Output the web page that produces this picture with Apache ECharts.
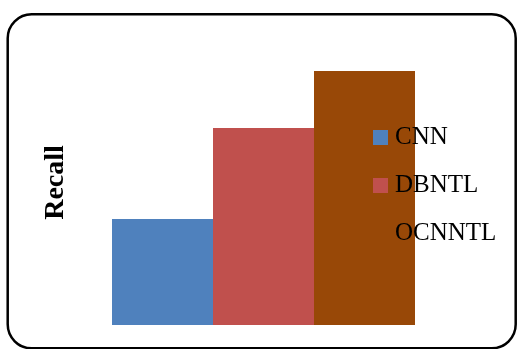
<!DOCTYPE html>
<html>
<head>
<meta charset="utf-8">
<script src="https://cdn.jsdelivr.net/npm/echarts@6/dist/echarts.min.js"></script>
<style>
html,body{margin:0;padding:0;background:#fff;}
#chart{width:517px;height:349px;}
</style>
</head>
<body>
<div id="chart"></div>
<script>
var categories = ['Recall'];
var seriesNames = ['CNN', 'DBNTL', 'OCNNTL'];
var seriesValues = [[41.7], [77.6], [100]];
var seriesColors = ['#4F81BD', '#C0504D', '#984807'];

var chart = echarts.init(document.getElementById('chart'));
var series = seriesNames.map(function (n, i) {
  return {
    name: n,
    type: 'bar',
    data: seriesValues[i],
    barWidth: 101,
    barGap: '0%',
    itemStyle: { color: seriesColors[i] },
    silent: true
  };
});
chart.setOption({
  animation: false,
  grid: { left: 112, right: 102, top: 71, bottom: 24 },
  xAxis: {
    type: 'category', data: categories, show: false
  },
  yAxis: {
    type: 'value', min: 0, max: 100, show: false
  },
  legend: {
    orient: 'vertical',
    left: 373, top: 125, padding: 0,
    itemWidth: 15, itemHeight: 15,
    itemGap: 23,
    icon: 'rect',
    data: seriesNames,
    textStyle: { fontFamily: 'Liberation Serif', fontSize: 25, lineHeight: 24, color: '#000', padding: [0, 0, 0, 2] }
  },
  graphic: [
    {
      type: 'rect', z: 100, silent: true,
      shape: { x: 7.7, y: 14.3, width: 508, height: 334, r: 24 },
      style: { fill: 'none', stroke: '#000', lineWidth: 2.5 }
    },
    {
      type: 'text', x: 56, y: 182.5, rotation: Math.PI / 2,
      style: {
        text: 'Recall', fontFamily: 'Liberation Serif', fontWeight: 'bold', fontSize: 28,
        fill: '#000', align: 'center', verticalAlign: 'middle'
      }
    }
  ],
  series: series
});
</script>
</body>
</html>
